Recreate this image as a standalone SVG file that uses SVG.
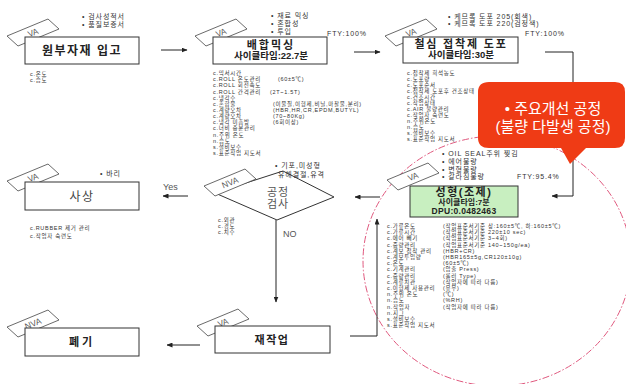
<svg xmlns="http://www.w3.org/2000/svg" width="626" height="384" viewBox="0 0 626 384">
<style>
text{font-family:"Liberation Sans","Noto Sans CJK KR",sans-serif;fill:#333}
.box{fill:#fff;stroke:#333;stroke-width:1}
.gbox{fill:#c8efc0;stroke:#333;stroke-width:1}
.tag{fill:#fff;stroke:#444;stroke-width:0.8}
.tagt{font-size:8.5px;fill:#555;text-anchor:middle}
.title{font-weight:bold;text-anchor:middle;fill:#222}
.note{font-size:7px;letter-spacing:0.9px;fill:#333}
.lst{font-size:5.5px;letter-spacing:0.7px;fill:#333}
.conn{stroke:#222;stroke-width:1;fill:none}
.lbl{font-size:9px;fill:#555}
</style>
<defs>
<marker id="ah" markerWidth="6" markerHeight="5" refX="5.5" refY="2.5" orient="auto" markerUnits="userSpaceOnUse"><path d="M0,0 L6,2.5 L0,5 z" fill="#222"/></marker>
</defs>

<ellipse id="focus-ring" cx="497" cy="261" rx="134" ry="125" fill="none" stroke="#e0587e" stroke-width="1" stroke-dasharray="7 2 1.5 2"/>

<g id="connectors">
<line class="conn" x1="161" y1="50" x2="187" y2="50" marker-end="url(#ah)"/>
<line class="conn" x1="354" y1="52" x2="380" y2="52" marker-end="url(#ah)"/>
<polyline class="conn" points="545,52 573,52 573,196 552,196" marker-end="url(#ah)"/>
<line class="conn" x1="380" y1="197" x2="355" y2="197" marker-end="url(#ah)"/>
<line class="conn" x1="188" y1="196" x2="163" y2="196" marker-end="url(#ah)"/>
<text class="lbl" x="163" y="190">Yes</text>
<line class="conn" x1="276" y1="220" x2="276" y2="302" marker-end="url(#ah)"/>
<text class="lbl" x="283" y="237">NO</text>
<line class="conn" x1="200" y1="345" x2="167" y2="345" marker-end="url(#ah)"/>
<polyline class="conn" points="350,336 377,336 377,219" marker-end="url(#ah)"/>
</g>

<g id="n1-incoming">
<g transform="translate(25,37)"><polygon class="tag" points="-18,-1 23,-18 34,-8 -7,9"/><text class="tagt" transform="translate(8,-4.5) rotate(-22)" y="3">VA</text></g>
<rect class="box" x="25" y="37" width="114" height="27"/>
<text class="title" x="82" y="55" font-size="12" letter-spacing="1.5">원부자재 입고</text>
<text class="note" x="82" y="19">• 검사성적서</text>
<text class="note" x="82" y="26.5">• 품질보증서</text>
<text class="lst" x="30" y="76">c.온도</text>
<text class="lst" x="30" y="82">c.습도</text>
</g>

<g id="n2-mixing">
<g transform="translate(213,37)"><polygon class="tag" points="-18,-1 23,-18 34,-8 -7,9"/><text class="tagt" transform="translate(8,-4.5) rotate(-22)" y="3">VA</text></g>
<rect class="box" x="213" y="37" width="114" height="27"/>
<text class="title" x="271" y="48.5" font-size="11" letter-spacing="2">배합믹싱</text>
<text class="title" x="271" y="59" font-size="9.5">사이클타임:22.7분</text>
<text class="note" x="271" y="17.5">• 재료 믹싱</text>
<text class="note" x="271" y="25.5">• 혼합성</text>
<text class="note" x="271" y="33.5">• 투입</text>
<text class="note" x="327" y="35.5">FTY:100%</text>
<text class="lst" x="213" y="75">c.믹서시간</text>
<text class="lst" x="213" y="81.2">c.ROLL 온도관리</text><text class="lst" x="278" y="81.2">(60±5℃)</text>
<text class="lst" x="213" y="87.3">c.ROLL 회전속도</text>
<text class="lst" x="213" y="93.5">c.ROLL 간격관리</text><text class="lst" x="270" y="93.5">(2T~1.5T)</text>
<text class="lst" x="213" y="99.6">c.냉각수</text>
<text class="lst" x="213" y="105.8">c.혼합물</text><text class="lst" x="273" y="105.8">(이물질,이형제,비닐,마찰물,분리)</text>
<text class="lst" x="213" y="111.9">c.계량오차</text><text class="lst" x="273" y="111.9">(HBR,HR,CR,EPDM,BUTYL)</text>
<text class="lst" x="213" y="118.1">c.계량오차</text><text class="lst" x="273" y="118.1">(70~80Kg)</text>
<text class="lst" x="213" y="124.2">c.냉각 미흡방</text><text class="lst" x="273" y="124.2">(6회이상)</text>
<text class="lst" x="213" y="130.4">c.너비 충분관리</text>
<text class="lst" x="213" y="136.5">n.주위 온도</text>
<text class="lst" x="213" y="142.7">n.습도</text>
<text class="lst" x="213" y="148.8">s.설비보수</text>
<text class="lst" x="213" y="155">s.표준작업 지도서</text>
</g>

<g id="n3-adhesive">
<g transform="translate(403,37)"><polygon class="tag" points="-18,-1 23,-18 34,-8 -7,9"/><text class="tagt" transform="translate(8,-4.5) rotate(-22)" y="3">VA</text></g>
<rect class="box" x="403" y="37" width="115" height="26"/>
<text class="title" x="461" y="48" font-size="11" letter-spacing="1.8">철심 접착제 도포</text>
<text class="title" x="461" y="58" font-size="9.5">사이클타임:30분</text>
<text class="note" x="448" y="18.5">• 케므록 도포 205(회색)</text>
<text class="note" x="448" y="25.5">• 케므록 도포 220(검정색)</text>
<text class="note" x="525" y="35.5">FTY:100%</text>
<text class="lst" x="407" y="75">c.접착제 희석농도</text>
<text class="lst" x="407" y="81">c.도포량</text>
<text class="lst" x="407" y="87">c.도포순서</text>
<text class="lst" x="407" y="93">c.접착제 도포후 건조상태</text>
<text class="lst" x="407" y="99">c.건조시간</text>
<text class="lst" x="407" y="105">c.작업상태</text>
<text class="lst" x="407" y="111">c.AIR 불량관리</text>
<text class="lst" x="407" y="117">c.작업자 숙련도</text>
<text class="lst" x="407" y="123">n.주위온도</text>
<text class="lst" x="407" y="129">n.습도</text>
<text class="lst" x="407" y="135">s.설비보수</text>
<text class="lst" x="407" y="141">s.표준작업 지도서</text>
</g>

<g id="n4-molding">
<g transform="translate(405,181)"><polygon class="tag" points="-18,-1 23,-18 34,-8 -7,9"/><text class="tagt" transform="translate(8,-4.5) rotate(-22)" y="3">VA</text></g>
<rect class="gbox" x="410" y="186" width="108" height="31"/>
<text class="title" x="464" y="196" font-size="11" letter-spacing="1.5">성형(조제)</text>
<text class="title" x="464" y="204.5" font-size="8">사이클타임:7분</text>
<text class="title" x="464" y="213.5" font-size="8.5" letter-spacing="0.3">DPU:0.0482463</text>
<text class="note" x="442" y="156">• OIL SEAL주위 찢김</text>
<text class="note" x="442" y="164">• 에어불량</text>
<text class="note" x="442" y="171.5">• 변형불량</text>
<text class="note" x="442" y="179">• 갈라짐불량</text>
<text class="note" x="517" y="179">FTY:95.4%</text>
<text class="lst" x="387" y="228">c.가류온도</text><text class="lst" x="443" y="228">(작업표준서기준 상:160±5℃, 하:160±5℃)</text>
<text class="lst" x="387" y="234.2">c.가류시간</text><text class="lst" x="443" y="234.2">(작업표준서기준 220±10 sec)</text>
<text class="lst" x="387" y="240.4">c.에어 빼기</text><text class="lst" x="443" y="240.4">(작업표준서기준 3~4회)</text>
<text class="lst" x="387" y="246.6">c.중량관리</text><text class="lst" x="443" y="246.6">(작업표준서기준 140~150g/ea)</text>
<text class="lst" x="387" y="252.8">c.계보 접착 관리</text><text class="lst" x="443" y="252.8">(HBR+CR)</text>
<text class="lst" x="387" y="259">c.계보투입량</text><text class="lst" x="443" y="259">(HBR165±5g,CR120±10g)</text>
<text class="lst" x="387" y="265.1">c.온도</text><text class="lst" x="443" y="265.1">(60±5℃)</text>
<text class="lst" x="387" y="271.3">c.기계관리</text><text class="lst" x="443" y="271.3">(압출 Press)</text>
<text class="lst" x="387" y="277.5">c.중량관리</text><text class="lst" x="443" y="277.5">(롤러 Type)</text>
<text class="lst" x="387" y="283.7">c.계류치관</text><text class="lst" x="443" y="283.7">(작업자에 따라 다름)</text>
<text class="lst" x="387" y="289.9">c.이형제 사용관리</text><text class="lst" x="443" y="289.9">(유무)</text>
<text class="lst" x="387" y="296.1">n.주위 온도</text><text class="lst" x="443" y="296.1">(℃)</text>
<text class="lst" x="387" y="302.3">n.습도</text><text class="lst" x="443" y="302.3">(%RH)</text>
<text class="lst" x="387" y="308.5">n.작업자</text><text class="lst" x="443" y="308.5">(작업자에 따라 다름)</text>
<text class="lst" x="387" y="314.7">n.지그</text>
<text class="lst" x="387" y="320.9">s.설비보수</text>
<text class="lst" x="387" y="327">s.표준작업 지도서</text>
</g>

<g id="n5-inspection">
<polygon class="box" points="283,171 334,197 277,220 215,193"/>
<g transform="translate(222,187)"><polygon class="tag" points="-18,-1 23,-18 34,-8 -7,9"/><text class="tagt" transform="translate(8,-4.5) rotate(-22)" y="3">NVA</text></g>
<text x="278" y="196" font-size="11" text-anchor="middle" letter-spacing="1" style="fill:#555">공정</text>
<text x="278" y="208" font-size="11" text-anchor="middle" letter-spacing="1" style="fill:#555">검사</text>
<text class="note" x="275" y="167.5">• 기포,미성형</text>
<text class="note" x="278" y="176.5">유해결절,유격</text>
<text class="lst" x="218" y="222">c.외관</text>
<text class="lst" x="218" y="228">c.경도</text>
<text class="lst" x="218" y="234">c.치수</text>
</g>

<g id="n6-finishing">
<g transform="translate(25,182)"><polygon class="tag" points="-18,-1 23,-18 34,-8 -7,9"/><text class="tagt" transform="translate(8,-4.5) rotate(-22)" y="3">VA</text></g>
<rect class="box" x="25" y="182" width="114" height="28"/>
<text x="82" y="200.5" font-size="12" text-anchor="middle" letter-spacing="1.5" style="fill:#444">사상</text>
<text class="note" x="100" y="175.5">• 바리</text>
<text class="lst" x="30" y="230">c.RUBBER 제거 관리</text>
<text class="lst" x="30" y="237.5">c.작업자 숙련도</text>
</g>

<g id="n7-rework">
<g transform="translate(215,327)"><polygon class="tag" points="-18,-1 23,-18 34,-8 -7,9"/><text class="tagt" transform="translate(8,-4.5) rotate(-22)" y="3">VA</text></g>
<rect class="box" x="215" y="326" width="115" height="27"/>
<text class="title" x="272" y="344" font-size="11" letter-spacing="1.5">재작업</text>
</g>

<g id="n8-scrap">
<g transform="translate(25,328)"><polygon class="tag" points="-18,-1 23,-18 34,-8 -7,9"/><text class="tagt" transform="translate(8,-4.5) rotate(-22)" y="3">NVA</text></g>
<rect class="box" x="25" y="328" width="114" height="28"/>
<text class="title" x="82" y="346" font-size="11" letter-spacing="3">폐기</text>
</g>

<g id="callout">
<path d="M489,82 H615 Q625,82 625,92 V138 Q625,148 615,148 H586 L570,164 L561,148 H489 Q478,148 478,138 V92 Q478,82 489,82 Z" fill="#ef3b15"/>
<text x="553" y="114" font-size="15" text-anchor="middle" style="fill:#fff">• 주요개선 공정</text>
<text x="553" y="132" font-size="15" text-anchor="middle" style="fill:#fff">(불량 다발생 공정)</text>
</g>
</svg>
